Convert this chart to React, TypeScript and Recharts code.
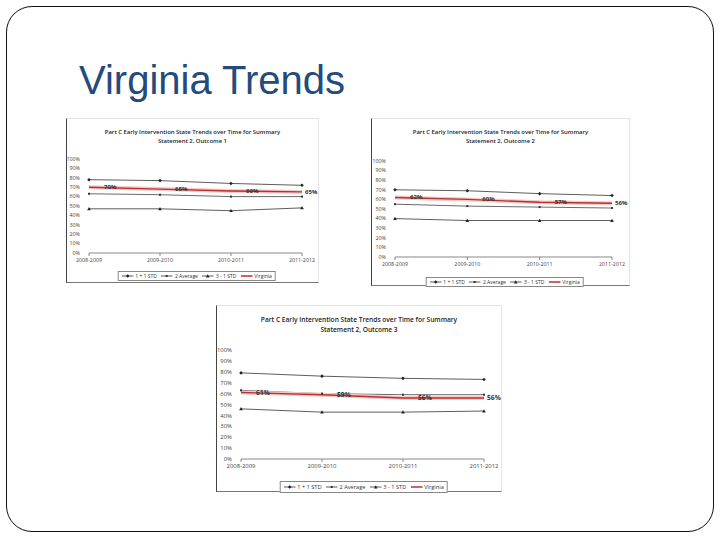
import { LineChart, Line, XAxis, YAxis, LabelList } from 'recharts';

const years = ['2008-2009', '2009-2010', '2010-2011', '2011-2012'];
const yTicks = [0, 10, 20, 30, 40, 50, 60, 70, 80, 90, 100];
const legendNames = ['1 + 1 STD', '2 Average', '3 - 1 STD', 'Virginia'];

// Statement 2, Outcome 1
const o1Upper = [78, 77, 74, 72];
const o1Average = [63, 62, 60, 60];
const o1Lower = [47, 47, 45, 48];
const o1Virginia = [70, 68, 66, 65];

// Statement 2, Outcome 2
const o2Upper = [70, 69, 66, 64];
const o2Average = [55, 53, 52, 51];
const o2Lower = [40, 38, 38, 38];
const o2Virginia = [62, 60, 57, 56];

// Statement 2, Outcome 3
const o3Upper = [79, 76, 74, 73];
const o3Average = [63, 60, 59, 59];
const o3Lower = [46, 43, 43, 44];
const o3Virginia = [61, 59, 56, 56];

const makeRows = (u: number[], a: number[], l: number[], v: number[]) =>
  years.map((year, i) => ({ year, upper: u[i], average: a[i], lower: l[i], virginia: v[i] }));

const Diamond = (props: any) => {
  const { cx, cy } = props;
  if (cx == null || cy == null) return null;
  return <path d={`M${cx},${cy - 1.8}L${cx + 1.8},${cy}L${cx},${cy + 1.8}L${cx - 1.8},${cy}Z`} fill="#222" />;
};
const Square = (props: any) => {
  const { cx, cy } = props;
  if (cx == null || cy == null) return null;
  return <rect x={cx - 1} y={cy - 1} width={2} height={2} fill="#333" />;
};
const Triangle = (props: any) => {
  const { cx, cy } = props;
  if (cx == null || cy == null) return null;
  return <path d={`M${cx},${cy - 1.8}L${cx + 1.8},${cy + 1.4}L${cx - 1.8},${cy + 1.4}Z`} fill="#222" />;
};

const LegendBox = ({ fontSize }: { fontSize: number }) => {
  const icon = (i: number) => (
    <svg width={12} height={6} style={{ marginRight: 2 }}>
      {i === 3 ? (
        <line x1={0} y1={3} x2={12} y2={3} stroke="#b8312f" strokeWidth={1.5} />
      ) : (
        <line x1={0} y1={3} x2={12} y2={3} stroke="#333" strokeWidth={0.8} />
      )}
      {i === 0 && <path d="M6,1.2L7.8,3L6,4.8L4.2,3Z" fill="#222" />}
      {i === 1 && <rect x={5} y={2} width={2} height={2} fill="#333" />}
      {i === 2 && <path d="M6,1.2L7.8,4.4L4.2,4.4Z" fill="#222" />}
    </svg>
  );
  return (
    <div
      style={{
        display: 'inline-flex',
        alignItems: 'center',
        border: '1px solid #888',
        padding: '1px 3px',
        fontSize,
        fontFamily: 'Open Sans, sans-serif',
        color: '#333',
        background: '#fff',
        whiteSpace: 'nowrap',
      }}
    >
      {legendNames.map((n, i) => (
        <span key={n} style={{ display: 'inline-flex', alignItems: 'center', marginRight: i < 3 ? 4 : 0 }}>
          {icon(i)}
          {n}
        </span>
      ))}
    </div>
  );
};

interface MiniProps {
  outcome: number;
  rows: ReturnType<typeof makeRows>;
  left: number;
  top: number;
  width: number;
  height: number;
  plotTop: number;
  plotRight: number;
  yAxisWidth: number;
  xAxisHeight: number;
  legendTop: number;
  titleTop: number;
  scale: number;
}

const MiniChart = (p: MiniProps) => {
  const plotCenter = (p.yAxisWidth + p.width - p.plotRight) / 2;
  const fs = 5.3 * p.scale;
  return (
    <div
      style={{
        position: 'absolute',
        left: p.left,
        top: p.top,
        width: p.width,
        height: p.height,
        background: '#fff',
        borderTop: '1px solid #e4e4e4',
        borderRight: '1px solid #e4e4e4',
        borderLeft: '1px solid #444',
        borderBottom: '1px solid #777',
        boxSizing: 'border-box',
      }}
    >
      <div
        style={{
          position: 'absolute',
          top: p.titleTop,
          left: 0,
          width: '100%',
          textAlign: 'center',
          fontFamily: 'Open Sans, sans-serif',
          fontWeight: 600,
          fontSize: 5.9 * p.scale,
          lineHeight: `${8.5 * p.scale}px`,
          color: '#222',
        }}
      >
        Part C Early Intervention State Trends over Time for Summary
        <br />
        Statement 2, Outcome {p.outcome}
      </div>
      <div style={{ position: 'absolute', left: -1, top: -1 }}>
        <LineChart
          width={p.width}
          height={p.height}
          data={p.rows}
          margin={{ top: p.plotTop, right: p.plotRight, left: 0, bottom: 0 }}
        >
          <XAxis
            dataKey="year"
            interval={0}
            height={p.xAxisHeight}
            axisLine={{ stroke: '#888' }}
            tickLine={{ stroke: '#888' }}
            tickSize={3}
            tickMargin={2}
            tick={{ fontSize: fs, fill: '#444', fontFamily: 'Open Sans, sans-serif' }}
          />
          <YAxis
            domain={[0, 100]}
            ticks={yTicks}
            interval={0}
            width={p.yAxisWidth}
            axisLine={false}
            tickLine={false}
            tickMargin={3}
            tickFormatter={(v) => `${v}%`}
            tick={{ fontSize: fs, fill: '#444', fontFamily: 'Open Sans, sans-serif' }}
          />
          <Line dataKey="upper" stroke="#333" strokeWidth={0.8} dot={<Diamond />} isAnimationActive={false} />
          <Line dataKey="average" stroke="#444" strokeWidth={0.8} dot={<Square />} isAnimationActive={false} />
          <Line dataKey="lower" stroke="#333" strokeWidth={0.8} dot={<Triangle />} isAnimationActive={false} />
          <Line dataKey="virginia" stroke="#f7c8c8" strokeWidth={4} dot={false} isAnimationActive={false} />
          <Line dataKey="virginia" stroke="#b8312f" strokeWidth={1.4} dot={false} isAnimationActive={false}>
            <LabelList
              dataKey="virginia"
              content={(lp: any) => {
                const last = lp.index === years.length - 1;
                return (
                  <text
                    x={lp.x + (last ? 3 : 15)}
                    y={lp.y}
                    dy={2}
                    fontSize={6 * p.scale}
                    fontWeight="bold"
                    fill="#333"
                    fontFamily="Open Sans, sans-serif"
                  >
                    {lp.value}%
                  </text>
                );
              }}
            />
          </Line>
        </LineChart>
      </div>
      <div
        style={{
          position: 'absolute',
          top: p.legendTop,
          left: plotCenter,
          transform: 'translateX(-50%)',
        }}
      >
        <LegendBox fontSize={fs * 0.95} />
      </div>
    </div>
  );
};

export default function App() {
  return (
    <div style={{ position: 'absolute', left: 0, top: 0, width: 720, height: 540, background: '#fff', overflow: 'hidden' }}>
      <div
        style={{
          position: 'absolute',
          left: 6,
          top: 6,
          width: 708,
          height: 526,
          border: '1px solid #111',
          borderRadius: 26,
          boxSizing: 'border-box',
        }}
      />
      <div
        style={{
          position: 'absolute',
          left: 79,
          top: 57,
          fontFamily: 'Liberation Sans, Arial, sans-serif',
          fontSize: 40,
          color: '#254a7c',
          lineHeight: '46px',
        }}
      >
        Virginia Trends
      </div>
      <MiniChart
        outcome={1}
        rows={makeRows(o1Upper, o1Average, o1Lower, o1Virginia)}
        left={66}
        top={118}
        width={253}
        height={165}
        plotTop={41}
        plotRight={17}
        yAxisWidth={23}
        xAxisHeight={30}
        legendTop={146}
        titleTop={9}
        scale={1}
      />
      <MiniChart
        outcome={2}
        rows={makeRows(o2Upper, o2Average, o2Lower, o2Virginia)}
        left={371}
        top={118}
        width={259}
        height={168}
        plotTop={43}
        plotRight={18}
        yAxisWidth={24}
        xAxisHeight={29}
        legendTop={152}
        titleTop={9}
        scale={1}
      />
      <MiniChart
        outcome={3}
        rows={makeRows(o3Upper, o3Average, o3Lower, o3Virginia)}
        left={216}
        top={305}
        width={286}
        height={187}
        plotTop={45}
        plotRight={18}
        yAxisWidth={25}
        xAxisHeight={33}
        legendTop={170}
        titleTop={9}
        scale={1.12}
      />
    </div>
  );
}
